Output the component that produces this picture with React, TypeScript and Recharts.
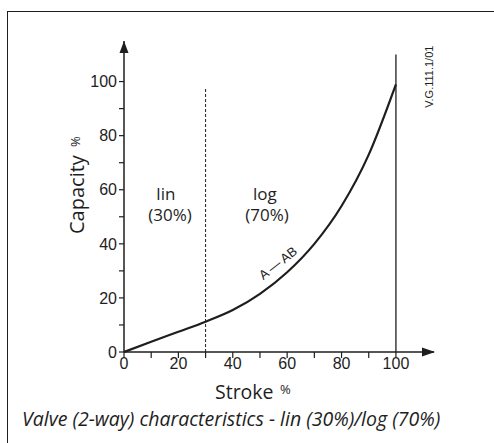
import { LineChart, Line, XAxis, YAxis, ReferenceLine, ReferenceDot, Label } from "recharts";

const strokePct = [0, 10, 20, 30, 40, 50, 60, 70, 80, 90, 100];
const capacityPct = [0, 3.8, 7.5, 11.2, 15.5, 21.5, 29.5, 40, 54, 73, 99];
const xTicks = [0, 10, 20, 30, 40, 50, 60, 70, 80, 90, 100];
const yTicks = [0, 10, 20, 30, 40, 50, 60, 70, 80, 90, 100];

const data = strokePct.map((s, i) => ({ stroke: s, capacity: capacityPct[i] }));

const INK = "#1e1e1e";
const HUMAN = "'Open Sans', 'Noto Sans', sans-serif";
const ARIAL = "'Liberation Sans', Arial, sans-serif";

const everyOther = (v: number) => (v % 20 === 0 ? String(v) : "");

function note(text: string, size = 17) {
  return (p: any) => (
    <text x={p.cx} y={p.cy} textAnchor="middle" fontFamily={HUMAN} fontSize={size} fill={INK}>
      {text}
    </text>
  );
}

function StrokeLabel(p: any) {
  const vb = p.viewBox;
  return (
    <text fontFamily={HUMAN} fill={INK}>
      <tspan x={vb.x + 91} y={vb.y + 47} fontSize={19.5}>Stroke</tspan>
      <tspan x={vb.x + 156} y={vb.y + 42} fontSize={13}>%</tspan>
    </text>
  );
}

function CapacityLabel(p: any) {
  const vb = p.viewBox;
  const x = 84;
  const y = vb.y + 193;
  return (
    <text transform={`rotate(-90, ${x}, ${y})`} fontFamily={HUMAN} fill={INK}>
      <tspan x={x} y={y} fontSize={20}>Capacity</tspan>
      <tspan x={x + 87} y={y - 4} fontSize={13}>%</tspan>
    </text>
  );
}

export default function App() {
  return (
    <div style={{ position: "absolute", left: 0, top: 0, width: 494, height: 443, background: "#fff", overflow: "hidden" }}>
      <div
        style={{
          position: "absolute",
          left: 7,
          top: 11,
          width: 520,
          height: 460,
          borderLeft: `1.5px solid ${INK}`,
          borderTop: `1.5px solid ${INK}`,
        }}
      />
      <LineChart width={494} height={443} data={data} margin={{ top: 41, right: 60, bottom: 0, left: 0 }}>
        <XAxis
          dataKey="stroke"
          type="number"
          domain={[0, 114]}
          ticks={xTicks}
          interval={0}
          tickFormatter={everyOther}
          height={91}
          tickSize={6}
          tickMargin={0}
          axisLine={{ stroke: INK, strokeWidth: 1.5 }}
          tickLine={{ stroke: INK, strokeWidth: 1.2 }}
          tick={{ fill: INK, fontSize: 16, fontFamily: ARIAL }}
        >
          <Label content={StrokeLabel} />
        </XAxis>
        <YAxis
          type="number"
          domain={[0, 115]}
          ticks={yTicks}
          interval={0}
          tickFormatter={everyOther}
          width={124}
          tickSize={5}
          tickMargin={2}
          axisLine={{ stroke: INK, strokeWidth: 1.5 }}
          tickLine={{ stroke: INK, strokeWidth: 1.2 }}
          tick={{ fill: INK, fontSize: 16, fontFamily: ARIAL }}
        >
          <Label content={CapacityLabel} />
        </YAxis>
        <ReferenceLine
          segment={[{ x: 30, y: 0 }, { x: 30, y: 98 }]}
          stroke={INK}
          strokeWidth={1}
          strokeDasharray="3 2"
        />
        <ReferenceLine
          segment={[{ x: 100, y: 0 }, { x: 100, y: 110 }]}
          stroke={INK}
          strokeWidth={1.3}
        />
        <Line
          type="monotone"
          dataKey="capacity"
          stroke={INK}
          strokeWidth={2.2}
          dot={false}
          isAnimationActive={false}
        />
        <ReferenceDot
          x={114}
          y={0}
          r={0}
          shape={(p: any) => (
            <polygon points={`${p.cx + 1},${p.cy} ${p.cx - 12},${p.cy - 4.5} ${p.cx - 12},${p.cy + 4.5}`} fill={INK} />
          )}
        />
        <ReferenceDot
          x={0}
          y={115}
          r={0}
          shape={(p: any) => (
            <polygon points={`${p.cx},${p.cy} ${p.cx - 4.5},${p.cy + 12} ${p.cx + 4.5},${p.cy + 12}`} fill={INK} />
          )}
        />
        <ReferenceDot x={15.4} y={56.2} r={0} shape={note("lin")} />
        <ReferenceDot x={16.9} y={48.5} r={0} shape={note("(30%)")} />
        <ReferenceDot x={51.8} y={56.2} r={0} shape={note("log")} />
        <ReferenceDot x={52.6} y={48.5} r={0} shape={note("(70%)")} />
        <ReferenceDot
          x={56.6}
          y={32.9}
          r={0}
          shape={(p: any) => (
            <text
              x={p.cx}
              y={p.cy}
              transform={`rotate(-38, ${p.cx}, ${p.cy})`}
              textAnchor="middle"
              dominantBaseline="central"
              fontFamily={ARIAL}
              fontSize={13}
              fill={INK}
            >
              A{"\u2009—\u2009"}AB
            </text>
          )}
        />
        <ReferenceDot
          x={113.6}
          y={90.3}
          r={0}
          shape={(p: any) => (
            <text
              x={p.cx}
              y={p.cy}
              transform={`rotate(-90, ${p.cx}, ${p.cy})`}
              fontFamily={ARIAL}
              fontSize={11}
              fill={INK}
            >
              V.G.111.1/01
            </text>
          )}
        />
      </LineChart>
      <div
        style={{
          position: "absolute",
          left: 22,
          top: 406,
          fontFamily: HUMAN,
          fontStyle: "italic",
          fontSize: 19.5,
          color: INK,
          whiteSpace: "nowrap",
          lineHeight: "26px",
        }}
      >
        Valve (2-way) characteristics - lin (30%)/log (70%)
      </div>
    </div>
  );
}
